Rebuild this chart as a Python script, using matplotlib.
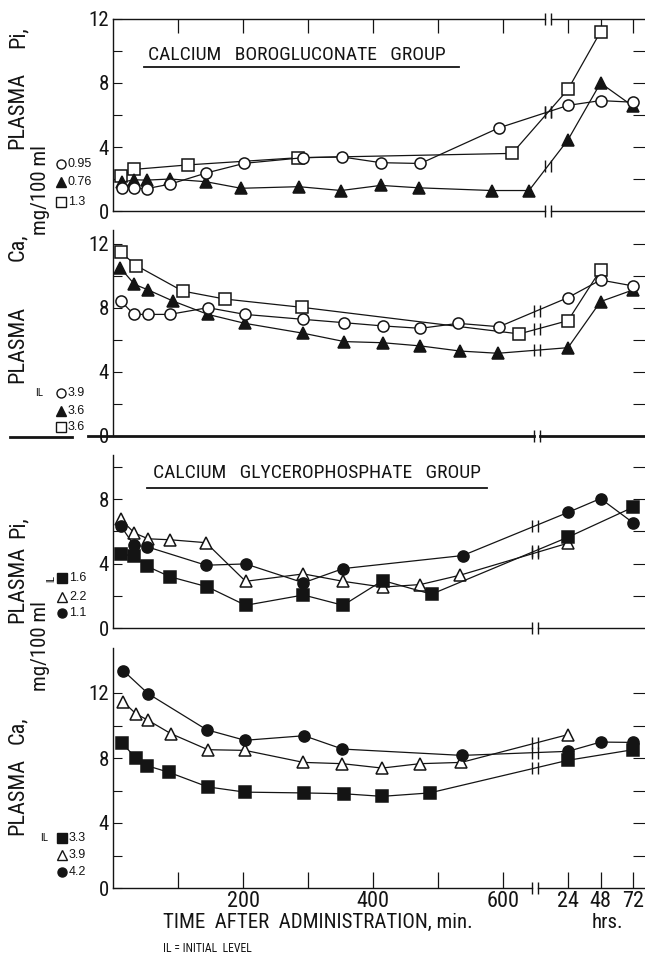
import matplotlib
matplotlib.use("Agg")
import numpy as np
import matplotlib.pyplot as plt
from matplotlib import font_manager
from matplotlib.lines import Line2D

# ----------------------------------------------------------------------------------------------------------------------
# Data: time after administration in minutes (24 / 48 / 72 hrs given as 1440 / 2880 / 4320 min)

# Calcium borogluconate group - plasma Pi (IL 0.95 / 0.76 / 1.3)
bg_pi_circ_t = [14, 32, 52, 88, 143, 202, 292, 352, 412, 473, 594, 1440, 2880, 4320]
bg_pi_circ_v = [1.45, 1.42, 1.40, 1.68, 2.37, 2.98, 3.33, 3.38, 3.02, 2.97, 5.2, 6.6, 6.9, 6.8]
bg_pi_tri_t  = [14, 32, 52, 88, 143, 197, 286, 351, 412, 470, 583, 640, 1440, 2880, 4320]
bg_pi_tri_v  = [1.8, 1.95, 1.93, 2.0, 1.83, 1.42, 1.52, 1.28, 1.6, 1.45, 1.28, 1.28, 4.45, 8.0, 6.55]
bg_pi_sq_t   = [13, 32, 115, 285, 614, 1440, 2880]
bg_pi_sq_v   = [2.2, 2.6, 2.88, 3.33, 3.6, 7.6, 11.2]

# Calcium borogluconate group - plasma Ca (IL 3.9 / 3.6 / 3.6)
bg_ca_circ_t = [12, 32, 54, 87, 146, 203, 293, 356, 415, 473, 531, 594, 1440, 2880, 4320]
bg_ca_circ_v = [8.44, 7.6, 7.6, 7.6, 8.02, 7.6, 7.29, 7.08, 6.88, 6.73, 7.04, 6.83, 8.65, 9.75, 9.38]
bg_ca_tri_t  = [11, 33, 54, 92, 146, 203, 293, 356, 415, 473, 534, 592, 1440, 2880, 4320]
bg_ca_tri_v  = [10.52, 9.48, 9.13, 8.44, 7.6, 7.04, 6.42, 5.9, 5.83, 5.63, 5.31, 5.17, 5.52, 8.4, 9.13]
bg_ca_sq_t   = [12, 36, 107, 172, 291, 625, 1440, 2880]
bg_ca_sq_v   = [11.48, 10.65, 9.06, 8.56, 8.04, 6.38, 7.21, 10.38]

# Calcium glycerophosphate group - plasma Pi (IL 1.6 / 2.2 / 1.1)
gp_pi_sq_t   = [12, 32, 52, 88, 145, 204, 293, 354, 415, 490, 1440, 4320]
gp_pi_sq_v   = [4.62, 4.45, 3.84, 3.18, 2.56, 1.41, 2.05, 1.41, 2.95, 2.1, 5.64, 7.5]
gp_pi_tri_t  = [12, 33, 54, 88, 143, 204, 293, 354, 415, 473, 534, 1440]
gp_pi_tri_v  = [6.75, 5.9, 5.54, 5.48, 5.3, 2.9, 3.36, 2.9, 2.54, 2.7, 3.28, 5.27]
gp_pi_circ_t = [12, 32, 52, 143, 204, 293, 354, 538, 1440, 2880, 4320]
gp_pi_circ_v = [6.34, 5.15, 5.05, 3.9, 3.98, 2.81, 3.69, 4.5, 7.18, 8.04, 6.54]

# Calcium glycerophosphate group - plasma Ca (IL 3.3 / 3.9 / 4.2)
gp_ca_sq_t   = [14, 35, 52, 86, 146, 203, 294, 355, 414, 487, 1440, 4320]
gp_ca_sq_v   = [8.92, 8.0, 7.53, 7.12, 6.22, 5.9, 5.85, 5.8, 5.64, 5.85, 7.86, 8.51]
gp_ca_tri_t  = [16, 35, 54, 89, 146, 203, 293, 353, 414, 472, 536, 1440]
gp_ca_tri_v  = [11.45, 10.73, 10.32, 9.5, 8.51, 8.47, 7.73, 7.65, 7.38, 7.65, 7.73, 9.44]
gp_ca_circ_t = [16, 54, 144, 203, 294, 353, 537, 1440, 2880, 4320]
gp_ca_circ_v = [13.37, 11.96, 9.74, 9.09, 9.37, 8.55, 8.16, 8.41, 8.98, 8.96]

# x-axis ticks (minutes) and labels of the bottom panel
x_ticks_min  = [100, 200, 300, 400, 500, 600, 1440, 2880, 4320]
x_tick_lbls  = ["", "200", "", "400", "", "600", "24", "48", "72"]
# ----------------------------------------------------------------------------------------------------------------------

INK = "#141414"
W, H = 645, 967

# Pick A Condensed Font If There Is One
names = {f.name for f in font_manager.fontManager.ttflist}
NARROW = "DejaVu Sans"
for cand in ["Liberation Sans Narrow", "DejaVu Sans Condensed", "Roboto Condensed", "Liberation Sans"]:
    if cand in names:
        NARROW = cand
        break
plt.rcParams["font.family"] = [NARROW, "DejaVu Sans"]


def fx(px): return px / W
def fy(py): return 1 - py / H

# axis: 0 min at x=113 px, 0.65 px per minute, break near 650 min, then 50 units per 24 hrs
X0_PX, PX_PER_UNIT = 113, 0.65
def xd(px): return (px - X0_PX) / PX_PER_UNIT
XMAX = xd(W)

def pos(t):
    t = np.asarray(t, float)
    return np.where(t <= 650, t, 650 + t / 60 * 50 / 24)


fig = plt.figure(figsize=(W / 100, H / 100), dpi=100)


def make_panel(top_px, bottom_px, px_per_val, major, minor, right):
    ax = fig.add_axes([fx(X0_PX), fy(bottom_px), (W - X0_PX) / W, (bottom_px - top_px) / H])
    ax.set_xlim(0, XMAX)
    ax.set_ylim(0, (bottom_px - top_px) / px_per_val)
    for s in ax.spines.values():
        s.set_visible(False)
    ax.spines["left"].set_visible(True)
    ax.spines["left"].set_linewidth(1.0)
    ax.spines["left"].set_color(INK)
    ax.set_yticks(major)
    ax.set_yticks(minor, minor=True)
    ax.tick_params(axis="y", which="both", direction="in", length=6.5, width=0.8, color=INK,
                   labelsize=15, pad=3, labelcolor=INK)
    ax.set_xticks([])
    sec = ax.secondary_yaxis("right")
    sec.set_yticks(right)
    sec.tick_params(direction="in", length=9, width=0.8, color=INK, labelright=False)
    sec.spines["right"].set_visible(False)
    return ax


def broken_hline(ax, y, brk, lw=1.0, x_start=0.0):
    tr = ax.get_xaxis_transform()
    ax.plot([x_start, brk - 4], [y, y], color=INK, lw=lw, transform=tr, clip_on=False)
    ax.plot([brk + 4, XMAX], [y, y], color=INK, lw=lw, transform=tr, clip_on=False)
    ax.plot([brk - 4, brk + 4], [y, y], ls="none", marker="|", ms=9, mew=1.0, color=INK,
            transform=tr, clip_on=False)


def plot_series(ax, t, v, marker, filled, brk):
    p = pos(t)
    ms = 9 if marker == "^" else 8
    ax.plot(p, v, color=INK, lw=0.9, marker=marker, ms=ms, mfc=INK if filled else "white",
            mec=INK, mew=1.1, zorder=3, clip_on=False)
    # Mark The Axis Break Where The Line Crosses It
    for i in range(len(p) - 1):
        if p[i] < brk < p[i + 1]:
            yb = v[i] + (brk - p[i]) / (p[i + 1] - p[i]) * (v[i + 1] - v[i])
            ax.plot([brk - 4, brk + 4], [yb, yb], ls="none", marker="|", ms=8, mew=1.0,
                    color=INK, zorder=4)


def legend_row(x_px, y_px, marker, filled, label):
    ms = 7 if marker == "^" else 6.5
    fig.add_artist(Line2D([fx(x_px)], [fy(y_px)], marker=marker, ms=ms, ls="none",
                          mfc=INK if filled else "white", mec=INK, mew=1.0))
    fig.text(fx(x_px + 7), fy(y_px), label, fontsize=9, va="center", ha="left", color=INK,
             family=["Liberation Sans", "DejaVu Sans"])


# -------------------- Panel 1: Borogluconate, Pi --------------------
ax1 = make_panel(19, 211, 16.0, [0, 4, 8, 12], [2, 6, 10], [2, 4, 6, 8, 10])
brk1 = xd(548)
broken_hline(ax1, 0, brk1)
broken_hline(ax1, 1, brk1)
ax1.set_xticks(pos(x_ticks_min))
ax1.tick_params(axis="x", direction="in", length=10, width=0.9, color=INK, top=True, bottom=False,
                labeltop=False, labelbottom=False)
plot_series(ax1, bg_pi_sq_t, bg_pi_sq_v, "s", False, brk1)
plot_series(ax1, bg_pi_tri_t, bg_pi_tri_v, "^", True, brk1)
plot_series(ax1, bg_pi_circ_t, bg_pi_circ_v, "o", False, brk1)

# -------------------- Panel 2: Borogluconate, Ca --------------------
ax2 = make_panel(230, 436, 16.0, [0, 4, 8, 12], [2, 6, 10], [2, 4, 6, 8, 10, 12])
brk2 = xd(537)
broken_hline(ax2, 0, brk2, lw=2.0, x_start=xd(88))
fig.add_artist(Line2D([fx(10), fx(72)], [fy(437), fy(437)], color=INK, lw=2.0))
plot_series(ax2, bg_ca_sq_t, bg_ca_sq_v, "s", False, brk2)
plot_series(ax2, bg_ca_tri_t, bg_ca_tri_v, "^", True, brk2)
plot_series(ax2, bg_ca_circ_t, bg_ca_circ_v, "o", False, brk2)

# -------------------- Panel 3: Glycerophosphate, Pi --------------------
ax3 = make_panel(455, 628, 16.1, [0, 4, 8], [2, 6, 10], [2, 4, 6, 8, 10])
brk3 = xd(535)
broken_hline(ax3, 0, brk3)
plot_series(ax3, gp_pi_tri_t, gp_pi_tri_v, "^", False, brk3)
plot_series(ax3, gp_pi_sq_t, gp_pi_sq_v, "s", True, brk3)
plot_series(ax3, gp_pi_circ_t, gp_pi_circ_v, "o", True, brk3)

# -------------------- Panel 4: Glycerophosphate, Ca --------------------
ax4 = make_panel(648, 888, 16.25, [0, 4, 8, 12], [2, 6, 10], [2, 4, 6, 8, 10, 12])
brk4 = xd(535)
broken_hline(ax4, 0, brk4)
ax4.set_xticks(pos(x_ticks_min))
ax4.set_xticklabels(x_tick_lbls)
ax4.tick_params(axis="x", direction="in", length=11.5, width=0.9, color=INK, labelsize=16, pad=2,
                labelcolor=INK)
plot_series(ax4, gp_ca_tri_t, gp_ca_tri_v, "^", False, brk4)
plot_series(ax4, gp_ca_sq_t, gp_ca_sq_v, "s", True, brk4)
plot_series(ax4, gp_ca_circ_t, gp_ca_circ_v, "o", True, brk4)

# -------------------- Titles --------------------
fig.text(fx(148), fy(55), "CALCIUM   BOROGLUCONATE   GROUP", fontsize=14, ha="left", va="center", color=INK)
fig.add_artist(Line2D([fx(144), fx(459)], [fy(67), fy(67)], color=INK, lw=1.3))
fig.text(fx(153), fy(473), "CALCIUM   GLYCEROPHOSPHATE   GROUP", fontsize=14, ha="left", va="center", color=INK)
fig.add_artist(Line2D([fx(147), fx(487)], [fy(488), fy(488)], color=INK, lw=1.3))

# -------------------- Y Labels --------------------
for txt, y_px in [("Pi,", 37), ("PLASMA", 110), ("Ca,", 247), ("PLASMA", 344),
                  ("Pi,", 527), ("PLASMA", 584), ("Ca,", 730), ("PLASMA", 796)]:
    fig.text(fx(18), fy(y_px), txt, rotation=90, fontsize=16, ha="center", va="center", color=INK)
for y_px in [190, 646]:
    fig.text(fx(40), fy(y_px), "mg/100 ml", rotation=90, fontsize=15, ha="center", va="center", color=INK)

# -------------------- Inline Legends (Initial Levels) --------------------
legend_row(61, 164, "o", False, "0.95")
legend_row(61, 182, "^", True, "0.76")
legend_row(61, 202, "s", False, "1.3")

fig.text(fx(39), fy(393), "IL", fontsize=8, ha="center", va="center", color=INK)
legend_row(61, 393, "o", False, "3.9")
legend_row(61, 411, "^", True, "3.6")
legend_row(61, 427, "s", False, "3.6")

fig.text(fx(51), fy(578), "IL", fontsize=7, rotation=90, ha="center", va="center", color=INK)
legend_row(62, 578, "s", True, "1.6")
legend_row(62, 597, "^", False, "2.2")
legend_row(62, 613, "o", True, "1.1")

fig.text(fx(44), fy(838), "IL", fontsize=8, ha="center", va="center", color=INK)
legend_row(62, 838, "s", True, "3.3")
legend_row(62, 855, "^", False, "3.9")
legend_row(62, 872, "o", True, "4.2")

# -------------------- X Label & Footnote --------------------
fig.text(fx(163), fy(922), "TIME  AFTER  ADMINISTRATION, min.", fontsize=15, ha="left", va="center", color=INK)
fig.text(fx(607), fy(922), "hrs.", fontsize=15, ha="center", va="center", color=INK)
fig.text(fx(163), fy(949), "IL = INITIAL  LEVEL", fontsize=8.5, ha="left", va="center", color=INK)

fig.savefig("out.png", dpi=100, facecolor="white")
